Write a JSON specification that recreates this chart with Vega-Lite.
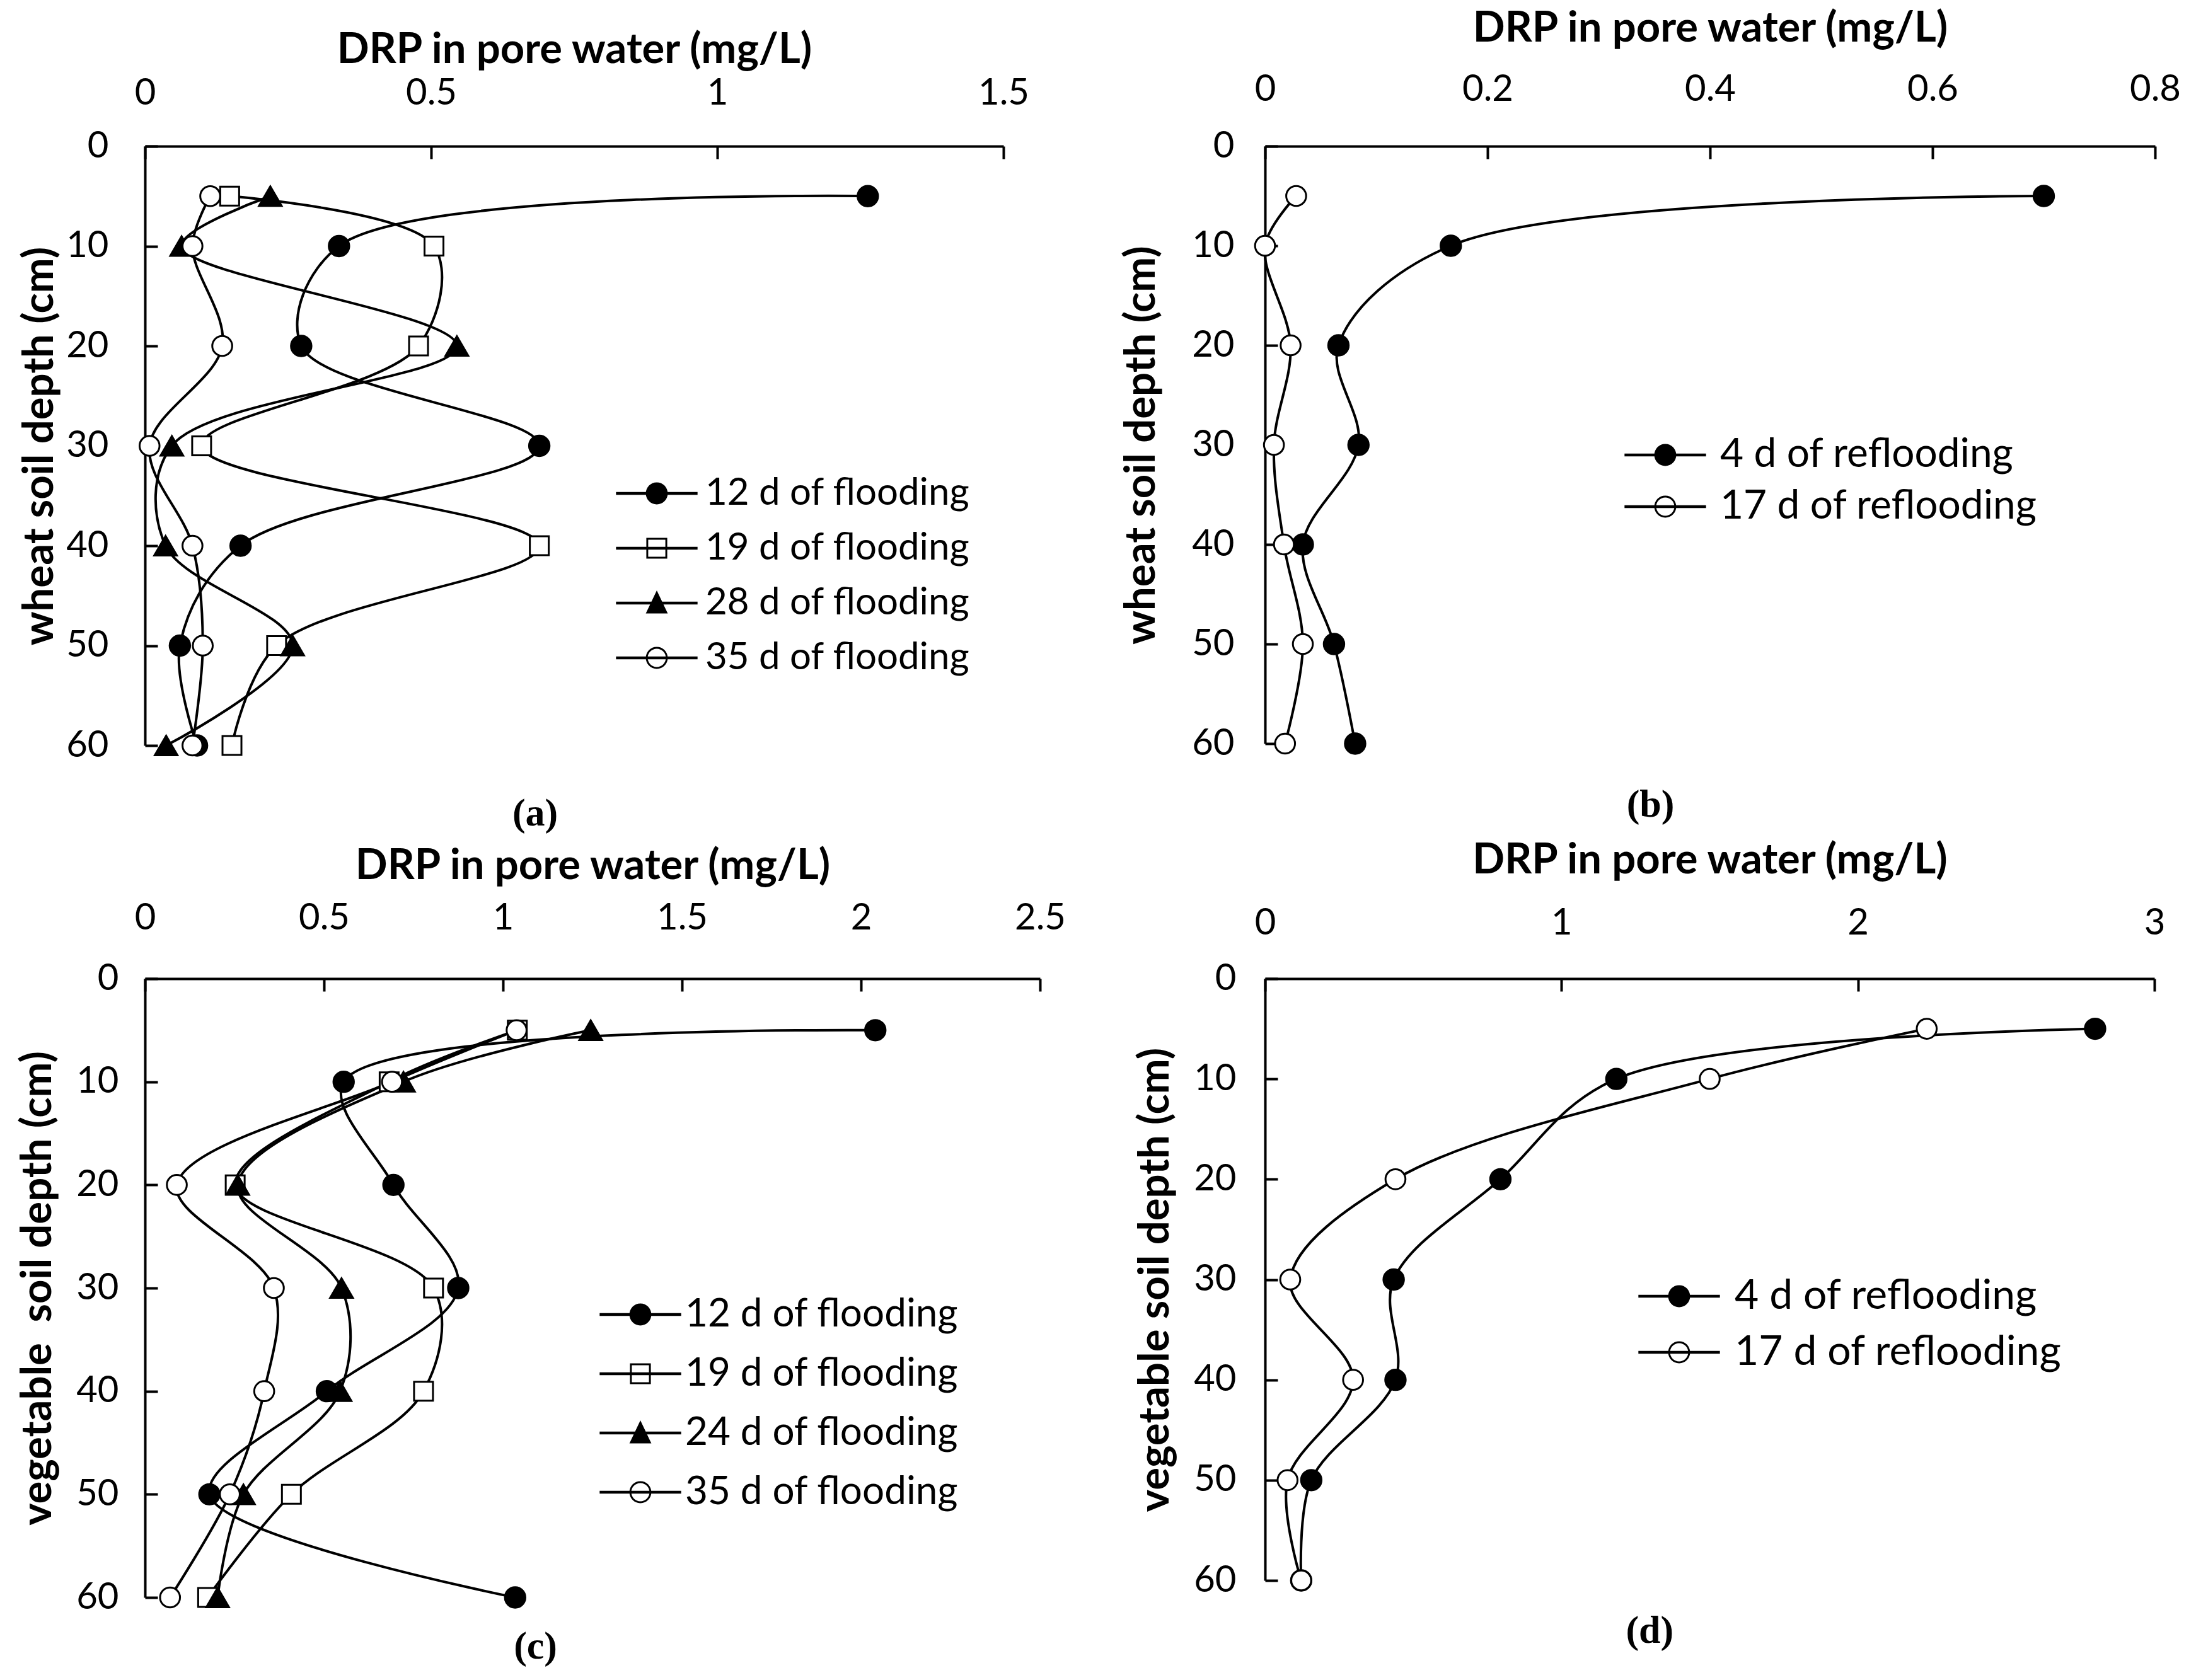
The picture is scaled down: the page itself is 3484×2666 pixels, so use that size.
{
  "$schema": "https://vega.github.io/schema/vega-lite/v6.json",
  "background": "white",
  "padding": {"left": 26, "top": 11, "right": 10, "bottom": 5},
  "autosize": {"type": "pad"},
  "datasets": {
    "a": [
      {"s": "12 d of flooding", "d": 5, "v": 1.263}, {"s": "12 d of flooding", "d": 10, "v": 0.339}, {"s": "12 d of flooding", "d": 20, "v": 0.273}, {"s": "12 d of flooding", "d": 30, "v": 0.689}, {"s": "12 d of flooding", "d": 40, "v": 0.167}, {"s": "12 d of flooding", "d": 50, "v": 0.061}, {"s": "12 d of flooding", "d": 60, "v": 0.091},
      {"s": "19 d of flooding", "d": 5, "v": 0.148}, {"s": "19 d of flooding", "d": 10, "v": 0.505}, {"s": "19 d of flooding", "d": 20, "v": 0.478}, {"s": "19 d of flooding", "d": 30, "v": 0.099}, {"s": "19 d of flooding", "d": 40, "v": 0.689}, {"s": "19 d of flooding", "d": 50, "v": 0.23}, {"s": "19 d of flooding", "d": 60, "v": 0.152},
      {"s": "28 d of flooding", "d": 5, "v": 0.219}, {"s": "28 d of flooding", "d": 10, "v": 0.064}, {"s": "28 d of flooding", "d": 20, "v": 0.545}, {"s": "28 d of flooding", "d": 30, "v": 0.047}, {"s": "28 d of flooding", "d": 40, "v": 0.036}, {"s": "28 d of flooding", "d": 50, "v": 0.258}, {"s": "28 d of flooding", "d": 60, "v": 0.037},
      {"s": "35 d of flooding", "d": 5, "v": 0.114}, {"s": "35 d of flooding", "d": 10, "v": 0.083}, {"s": "35 d of flooding", "d": 20, "v": 0.135}, {"s": "35 d of flooding", "d": 30, "v": 0.008}, {"s": "35 d of flooding", "d": 40, "v": 0.083}, {"s": "35 d of flooding", "d": 50, "v": 0.101}, {"s": "35 d of flooding", "d": 60, "v": 0.083}
    ],
    "b": [
      {"s": "4 d of reflooding", "d": 5, "v": 0.7}, {"s": "4 d of reflooding", "d": 10, "v": 0.167}, {"s": "4 d of reflooding", "d": 20, "v": 0.066}, {"s": "4 d of reflooding", "d": 30, "v": 0.084}, {"s": "4 d of reflooding", "d": 40, "v": 0.034}, {"s": "4 d of reflooding", "d": 50, "v": 0.062}, {"s": "4 d of reflooding", "d": 60, "v": 0.081},
      {"s": "17 d of reflooding", "d": 5, "v": 0.028}, {"s": "17 d of reflooding", "d": 10, "v": 0.0}, {"s": "17 d of reflooding", "d": 20, "v": 0.023}, {"s": "17 d of reflooding", "d": 30, "v": 0.008}, {"s": "17 d of reflooding", "d": 40, "v": 0.017}, {"s": "17 d of reflooding", "d": 50, "v": 0.034}, {"s": "17 d of reflooding", "d": 60, "v": 0.018}
    ],
    "c": [
      {"s": "12 d of flooding", "d": 5, "v": 2.04}, {"s": "12 d of flooding", "d": 10, "v": 0.555}, {"s": "12 d of flooding", "d": 20, "v": 0.694}, {"s": "12 d of flooding", "d": 30, "v": 0.875}, {"s": "12 d of flooding", "d": 40, "v": 0.508}, {"s": "12 d of flooding", "d": 50, "v": 0.18}, {"s": "12 d of flooding", "d": 60, "v": 1.034},
      {"s": "19 d of flooding", "d": 5, "v": 1.04}, {"s": "19 d of flooding", "d": 10, "v": 0.682}, {"s": "19 d of flooding", "d": 20, "v": 0.252}, {"s": "19 d of flooding", "d": 30, "v": 0.806}, {"s": "19 d of flooding", "d": 40, "v": 0.778}, {"s": "19 d of flooding", "d": 50, "v": 0.409}, {"s": "19 d of flooding", "d": 60, "v": 0.175},
      {"s": "24 d of flooding", "d": 5, "v": 1.245}, {"s": "24 d of flooding", "d": 10, "v": 0.722}, {"s": "24 d of flooding", "d": 20, "v": 0.259}, {"s": "24 d of flooding", "d": 30, "v": 0.549}, {"s": "24 d of flooding", "d": 40, "v": 0.545}, {"s": "24 d of flooding", "d": 50, "v": 0.275}, {"s": "24 d of flooding", "d": 60, "v": 0.203},
      {"s": "35 d of flooding", "d": 5, "v": 1.038}, {"s": "35 d of flooding", "d": 10, "v": 0.69}, {"s": "35 d of flooding", "d": 20, "v": 0.089}, {"s": "35 d of flooding", "d": 30, "v": 0.36}, {"s": "35 d of flooding", "d": 40, "v": 0.333}, {"s": "35 d of flooding", "d": 50, "v": 0.237}, {"s": "35 d of flooding", "d": 60, "v": 0.07}
    ],
    "d": [
      {"s": "4 d of reflooding", "d": 5, "v": 2.8}, {"s": "4 d of reflooding", "d": 10, "v": 1.185}, {"s": "4 d of reflooding", "d": 20, "v": 0.794}, {"s": "4 d of reflooding", "d": 30, "v": 0.434}, {"s": "4 d of reflooding", "d": 40, "v": 0.44}, {"s": "4 d of reflooding", "d": 50, "v": 0.156}, {"s": "4 d of reflooding", "d": 60, "v": 0.122},
      {"s": "17 d of reflooding", "d": 5, "v": 2.232}, {"s": "17 d of reflooding", "d": 10, "v": 1.5}, {"s": "17 d of reflooding", "d": 20, "v": 0.44}, {"s": "17 d of reflooding", "d": 30, "v": 0.085}, {"s": "17 d of reflooding", "d": 40, "v": 0.297}, {"s": "17 d of reflooding", "d": 50, "v": 0.076}, {"s": "17 d of reflooding", "d": 60, "v": 0.122}
    ]
  },
  "config": {
    "view": {"stroke": null},
    "font": "Lato",
    "axis": {"domainColor": "black", "domainWidth": 4, "tickColor": "black", "tickWidth": 4, "tickSize": -20, "labelFont": "Lato", "labelFontSize": 58, "labelColor": "black", "titleFont": "Lato", "titleFontSize": 67, "titleFontWeight": "bold", "titleColor": "black", "grid": false, "labelFlush": false, "labelOverlap": false},
    "legend": {"labelFont": "Lato", "labelColor": "black", "labelLimit": 2000, "symbolOpacity": 1, "padding": 0, "symbolStrokeWidth": 0, "symbolSize": 1100, "symbolFillColor": "black"},
    "title": {"font": "Liberation Serif", "fontSize": 62, "fontWeight": "bold", "color": "black", "orient": "bottom", "anchor": "middle", "frame": "bounds"}
  },
  "resolve": {"scale": {"shape": "independent"}, "legend": {"shape": "independent"}},
  "bounds": "flush",
  "columns": 2,
  "spacing": {"row": 370, "column": 357},
  "concat": [
    {
      "width": 1362, "height": 951,
      "data": {"name": "a"},
      "title": {"text": "(a)", "offset": 49, "dx": 18},
      "encoding": {
        "x": {"field": "v", "type": "quantitative", "scale": {"domain": [0, 1.5], "nice": false, "zero": false}, "axis": {"orient": "top", "title": "DRP in pore water (mg/L)", "values": [0, 0.5, 1, 1.5], "format": "~g", "labelPadding": 75, "titlePadding": 6}},
        "y": {"field": "d", "type": "quantitative", "scale": {"domain": [0, 60], "reverse": true, "nice": false, "zero": false}, "axis": {"title": "wheat soil depth (cm)", "values": [0, 10, 20, 30, 40, 50, 60], "labelPadding": 78, "titlePadding": 7}}
      },
      "layer": [
        {"mark": {"type": "line", "interpolate": "catmull-rom", "color": "black", "strokeWidth": 4}, "encoding": {"detail": {"field": "s"}, "order": {"field": "d", "type": "quantitative"}}},
        {"transform": [{"filter": "datum.s == '12 d of flooding'"}], "mark": {"type": "point", "shape": "circle", "filled": true, "fill": "black", "stroke": "black", "strokeWidth": 3, "size": 1050, "opacity": 1}},
        {"transform": [{"filter": "datum.s == '19 d of flooding'"}], "mark": {"type": "point", "shape": "square", "filled": true, "fill": "white", "stroke": "black", "strokeWidth": 3, "size": 900, "opacity": 1}},
        {"transform": [{"filter": "datum.s == '28 d of flooding'"}], "mark": {"type": "point", "shape": "triangle-up", "filled": true, "fill": "black", "stroke": "black", "strokeWidth": 3, "size": 1300, "opacity": 1}},
        {"transform": [{"filter": "datum.s == '35 d of flooding'"}], "mark": {"type": "point", "shape": "circle", "filled": true, "fill": "white", "stroke": "black", "strokeWidth": 3, "size": 1000, "opacity": 1}},
        {"mark": {"type": "point", "filled": true, "color": "black", "opacity": 0}, "encoding": {
          "shape": {"field": "s", "type": "nominal", "scale": {"domain": ["12 d of flooding", "19 d of flooding", "28 d of flooding", "35 d of flooding"], "range": [
            "M-3.9,-0.13L3.9,-0.13L3.9,0.13L-3.9,0.13Z M1.05,0A1.05,1.05,0,1,1,-1.05,0A1.05,1.05,0,1,1,1.05,0Z",
            "M-3.9,-0.13L3.9,-0.13L3.9,0.13L-3.9,0.13Z M-1,-1L1,-1L1,1L-1,1Z M-0.82,-0.82L-0.82,0.82L0.82,0.82L0.82,-0.82Z",
            "M-3.9,-0.13L3.9,-0.13L3.9,0.13L-3.9,0.13Z M0,-1.2L1.05,1L-1.05,1Z",
            "M-3.9,-0.13L3.9,-0.13L3.9,0.13L-3.9,0.13Z M1.05,0A1.05,1.05,0,1,1,-1.05,0A1.05,1.05,0,1,1,1.05,0Z M0.87,0A0.87,0.87,0,1,0,-0.87,0A0.87,0.87,0,1,0,0.87,0Z"]},
            "legend": {"title": null, "orient": "none", "legendX": 782, "legendY": 521, "labelFontSize": 60, "rowPadding": 27, "labelOffset": 47, "symbolSize": 1100, "symbolOpacity": 1, "symbolFillColor": "black", "symbolStrokeWidth": 0}}
        }}
      ]
    },
    {
      "width": 1412, "height": 948,
      "data": {"name": "b"},
      "title": {"text": "(b)", "offset": 38},
      "encoding": {
        "x": {"field": "v", "type": "quantitative", "scale": {"domain": [0, 0.8], "nice": false, "zero": false}, "axis": {"orient": "top", "title": "DRP in pore water (mg/L)", "values": [0, 0.2, 0.4, 0.6, 0.8], "format": "~g", "labelPadding": 81, "titlePadding": 34}},
        "y": {"field": "d", "type": "quantitative", "scale": {"domain": [0, 60], "reverse": true, "nice": false, "zero": false}, "axis": {"title": "wheat soil depth (cm)", "values": [0, 10, 20, 30, 40, 50, 60], "labelPadding": 69, "titlePadding": 45}}
      },
      "layer": [
        {"mark": {"type": "line", "interpolate": "catmull-rom", "color": "black", "strokeWidth": 4}, "encoding": {"detail": {"field": "s"}, "order": {"field": "d", "type": "quantitative"}}},
        {"transform": [{"filter": "datum.s == '4 d of reflooding'"}], "mark": {"type": "point", "shape": "circle", "filled": true, "fill": "black", "stroke": "black", "strokeWidth": 3, "size": 1050, "opacity": 1}},
        {"transform": [{"filter": "datum.s == '17 d of reflooding'"}], "mark": {"type": "point", "shape": "circle", "filled": true, "fill": "white", "stroke": "black", "strokeWidth": 3, "size": 1000, "opacity": 1}},
        {"mark": {"type": "point", "filled": true, "color": "black", "opacity": 0}, "encoding": {
          "shape": {"field": "s", "type": "nominal", "scale": {"domain": ["4 d of reflooding", "17 d of reflooding"], "range": [
            "M-3.9,-0.13L3.9,-0.13L3.9,0.13L-3.9,0.13Z M1.05,0A1.05,1.05,0,1,1,-1.05,0A1.05,1.05,0,1,1,1.05,0Z",
            "M-3.9,-0.13L3.9,-0.13L3.9,0.13L-3.9,0.13Z M1.05,0A1.05,1.05,0,1,1,-1.05,0A1.05,1.05,0,1,1,1.05,0Z M0.87,0A0.87,0.87,0,1,0,-0.87,0A0.87,0.87,0,1,0,0.87,0Z"]},
            "legend": {"title": null, "orient": "none", "legendX": 603, "legendY": 458, "labelFontSize": 64, "rowPadding": 18, "labelOffset": 55, "symbolSize": 1100, "symbolOpacity": 1, "symbolFillColor": "black", "symbolStrokeWidth": 0}}
        }}
      ]
    },
    {
      "width": 1420, "height": 982,
      "data": {"name": "c"},
      "title": {"text": "(c)", "offset": 19, "dx": -9},
      "encoding": {
        "x": {"field": "v", "type": "quantitative", "scale": {"domain": [0, 2.5], "nice": false, "zero": false}, "axis": {"orient": "top", "title": "DRP in pore water (mg/L)", "values": [0, 0.5, 1, 1.5, 2, 2.5], "format": "~g", "labelPadding": 87, "titlePadding": 20}},
        "y": {"field": "d", "type": "quantitative", "scale": {"domain": [0, 60], "reverse": true, "nice": false, "zero": false}, "axis": {"title": "vegetable\u00a0 soil depth (cm)", "values": [0, 10, 20, 30, 40, 50, 60], "labelPadding": 62, "titlePadding": 26}}
      },
      "layer": [
        {"mark": {"type": "line", "interpolate": "catmull-rom", "color": "black", "strokeWidth": 4}, "encoding": {"detail": {"field": "s"}, "order": {"field": "d", "type": "quantitative"}}},
        {"transform": [{"filter": "datum.s == '12 d of flooding'"}], "mark": {"type": "point", "shape": "circle", "filled": true, "fill": "black", "stroke": "black", "strokeWidth": 3, "size": 1050, "opacity": 1}},
        {"transform": [{"filter": "datum.s == '19 d of flooding'"}], "mark": {"type": "point", "shape": "square", "filled": true, "fill": "white", "stroke": "black", "strokeWidth": 3, "size": 900, "opacity": 1}},
        {"transform": [{"filter": "datum.s == '24 d of flooding'"}], "mark": {"type": "point", "shape": "triangle-up", "filled": true, "fill": "black", "stroke": "black", "strokeWidth": 3, "size": 1300, "opacity": 1}},
        {"transform": [{"filter": "datum.s == '35 d of flooding'"}], "mark": {"type": "point", "shape": "circle", "filled": true, "fill": "white", "stroke": "black", "strokeWidth": 3, "size": 1000, "opacity": 1}},
        {"mark": {"type": "point", "filled": true, "color": "black", "opacity": 0}, "encoding": {
          "shape": {"field": "s", "type": "nominal", "scale": {"domain": ["12 d of flooding", "19 d of flooding", "24 d of flooding", "35 d of flooding"], "range": [
            "M-3.9,-0.13L3.9,-0.13L3.9,0.13L-3.9,0.13Z M1.05,0A1.05,1.05,0,1,1,-1.05,0A1.05,1.05,0,1,1,1.05,0Z",
            "M-3.9,-0.13L3.9,-0.13L3.9,0.13L-3.9,0.13Z M-1,-1L1,-1L1,1L-1,1Z M-0.82,-0.82L-0.82,0.82L0.82,0.82L0.82,-0.82Z",
            "M-3.9,-0.13L3.9,-0.13L3.9,0.13L-3.9,0.13Z M0,-1.2L1.05,1L-1.05,1Z",
            "M-3.9,-0.13L3.9,-0.13L3.9,0.13L-3.9,0.13Z M1.05,0A1.05,1.05,0,1,1,-1.05,0A1.05,1.05,0,1,1,1.05,0Z M0.87,0A0.87,0.87,0,1,0,-0.87,0A0.87,0.87,0,1,0,0.87,0Z"]},
            "legend": {"title": null, "orient": "none", "legendX": 755, "legendY": 502, "labelFontSize": 62, "rowPadding": 32, "labelOffset": 40, "symbolSize": 1100, "symbolOpacity": 1, "symbolFillColor": "black", "symbolStrokeWidth": 0}}
        }}
      ]
    },
    {
      "width": 1411, "height": 955,
      "data": {"name": "d"},
      "title": {"text": "(d)", "offset": 21},
      "encoding": {
        "x": {"field": "v", "type": "quantitative", "scale": {"domain": [0, 3], "nice": false, "zero": false}, "axis": {"orient": "top", "title": "DRP in pore water (mg/L)", "values": [0, 1, 2, 3], "format": "~g", "labelPadding": 79, "titlePadding": 37}},
        "y": {"field": "d", "type": "quantitative", "scale": {"domain": [0, 60], "reverse": true, "nice": false, "zero": false}, "axis": {"title": "vegetable soil depth (cm)", "values": [0, 10, 20, 30, 40, 50, 60], "labelPadding": 66, "titlePadding": 26}}
      },
      "layer": [
        {"mark": {"type": "line", "interpolate": "catmull-rom", "color": "black", "strokeWidth": 4}, "encoding": {"detail": {"field": "s"}, "order": {"field": "d", "type": "quantitative"}}},
        {"transform": [{"filter": "datum.s == '4 d of reflooding'"}], "mark": {"type": "point", "shape": "circle", "filled": true, "fill": "black", "stroke": "black", "strokeWidth": 3, "size": 1050, "opacity": 1}},
        {"transform": [{"filter": "datum.s == '17 d of reflooding'"}], "mark": {"type": "point", "shape": "circle", "filled": true, "fill": "white", "stroke": "black", "strokeWidth": 3, "size": 1000, "opacity": 1}},
        {"mark": {"type": "point", "filled": true, "color": "black", "opacity": 0}, "encoding": {
          "shape": {"field": "s", "type": "nominal", "scale": {"domain": ["4 d of reflooding", "17 d of reflooding"], "range": [
            "M-3.9,-0.13L3.9,-0.13L3.9,0.13L-3.9,0.13Z M1.05,0A1.05,1.05,0,1,1,-1.05,0A1.05,1.05,0,1,1,1.05,0Z",
            "M-3.9,-0.13L3.9,-0.13L3.9,0.13L-3.9,0.13Z M1.05,0A1.05,1.05,0,1,1,-1.05,0A1.05,1.05,0,1,1,1.05,0Z M0.87,0A0.87,0.87,0,1,0,-0.87,0A0.87,0.87,0,1,0,0.87,0Z"]},
            "legend": {"title": null, "orient": "none", "legendX": 624, "legendY": 471, "labelFontSize": 66, "rowPadding": 23, "labelOffset": 55, "symbolSize": 1100, "symbolOpacity": 1, "symbolFillColor": "black", "symbolStrokeWidth": 0}}
        }}
      ]
    }
  ]
}
